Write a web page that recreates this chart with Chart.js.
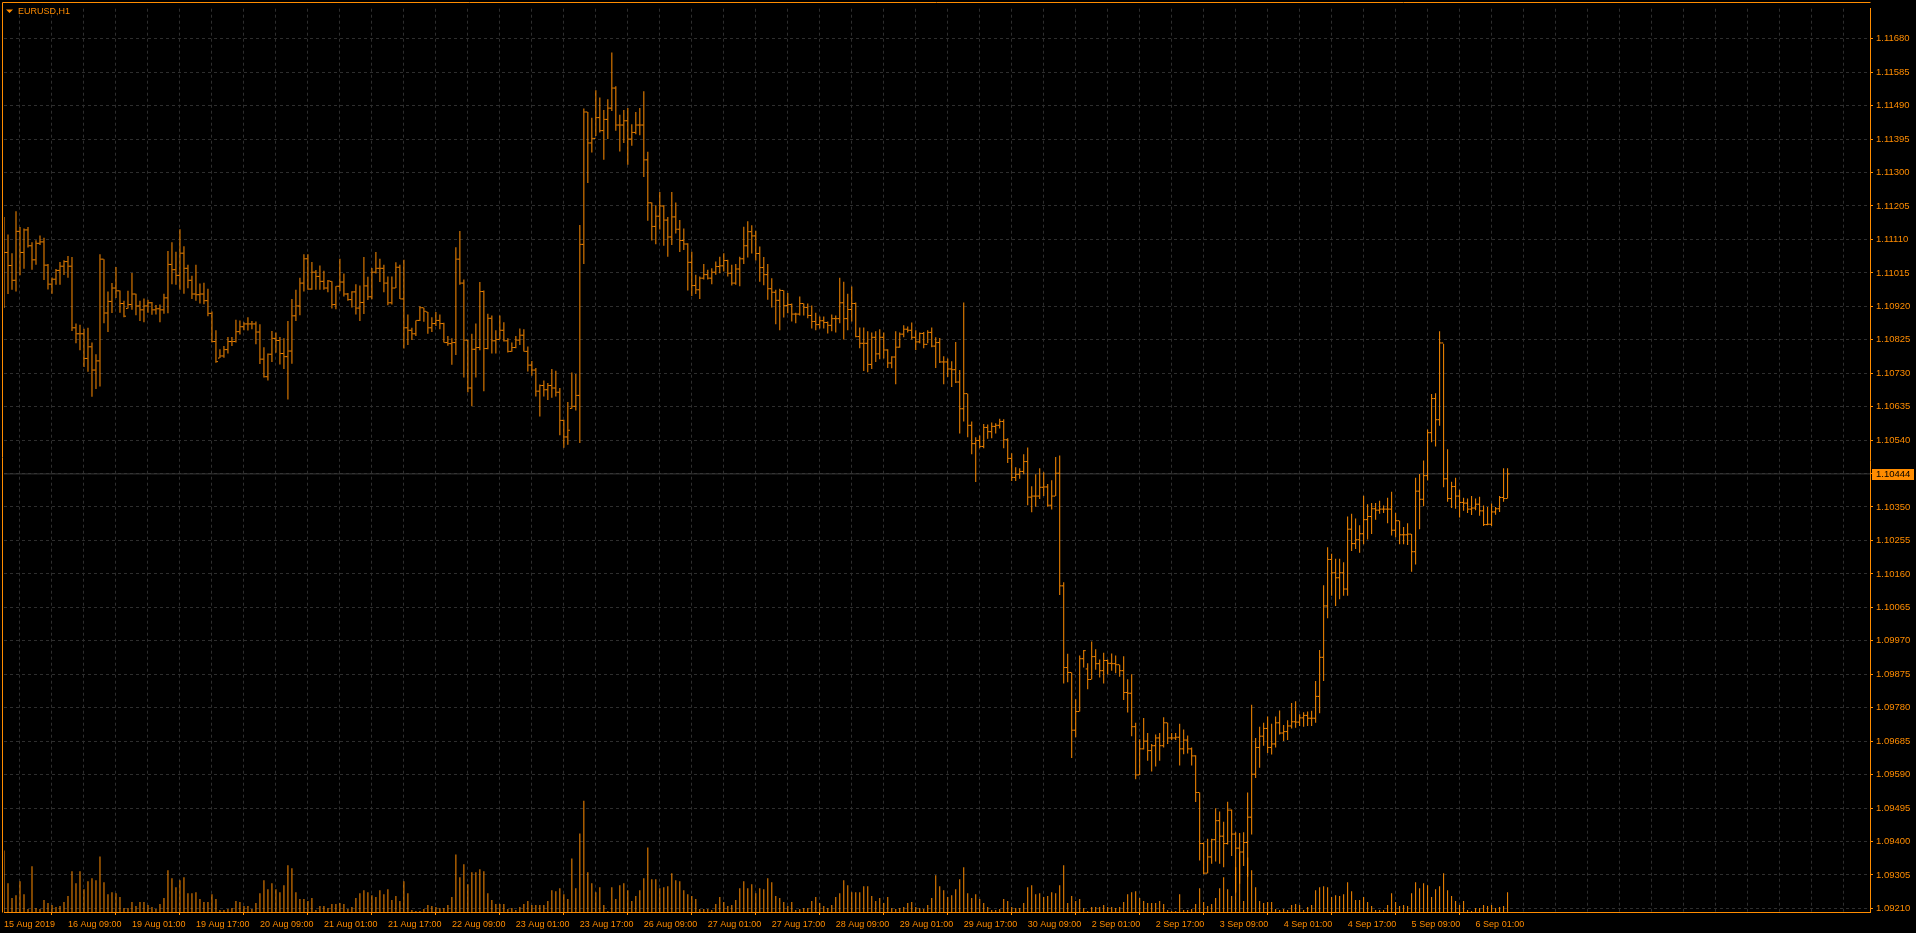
<!DOCTYPE html>
<html lang="en">
<head>
  <meta charset="UTF-8">
  <title>EURUSD,H1</title>
  <script src="https://cdn.jsdelivr.net/npm/chart.js"></script>
  <style>
    html, body {
      margin: 0;
      padding: 0;
      background: #000;
      overflow: hidden;
    }
    #chart {
      display: block;
    }
  </style>
</head>
<body>
  <canvas id="chart" width="1916" height="933"></canvas>
  <script>
    // labels under the time axis, one every 16 hourly bars
    var timeLabels = ['15 Aug 2019', '16 Aug 09:00', '19 Aug 01:00', '19 Aug 17:00', '20 Aug 09:00', '21 Aug 01:00',
      '21 Aug 17:00', '22 Aug 09:00', '23 Aug 01:00', '23 Aug 17:00', '26 Aug 09:00', '27 Aug 01:00',
      '27 Aug 17:00', '28 Aug 09:00', '29 Aug 01:00', '29 Aug 17:00', '30 Aug 09:00', '2 Sep 01:00',
      '2 Sep 17:00', '3 Sep 09:00', '4 Sep 01:00', '4 Sep 17:00', '5 Sep 09:00', '6 Sep 01:00'];

    // price scale labels
    var priceTicks = [1.09210, 1.09305, 1.09400, 1.09495, 1.09590, 1.09685, 1.09780, 1.09875, 1.09970,
      1.10065, 1.10160, 1.10255, 1.10350, 1.10445, 1.10540, 1.10635, 1.10730, 1.10825, 1.10920,
      1.11015, 1.11110, 1.11205, 1.11300, 1.11395, 1.11490, 1.11585, 1.11680];

    // EURUSD H1, 15 Aug 2019 17:00 .. 6 Sep 2019 09:00
    var open = [
      1.11100,1.11073,1.11036,1.10994,1.11133,1.11073,1.11137,1.11092,1.11052,1.11099,1.11103,1.11037,1.10983,1.10997,1.11022,1.11034,
      1.11047,1.11034,1.10859,1.10842,1.10842,1.10772,1.10805,1.10739,1.10765,1.11054,1.10901,1.10934,1.10972,1.10964,1.10928,1.10914,
      1.10925,1.10955,1.10921,1.10910,1.10921,1.10930,1.10910,1.10913,1.10910,1.10944,1.11039,1.11024,1.11008,1.11071,1.11028,1.10994,
      1.10955,1.10953,1.10955,1.10936,1.10900,1.10820,1.10773,1.10779,1.10797,1.10820,1.10820,1.10848,1.10862,1.10870,1.10870,1.10870,
      1.10847,1.10770,1.10720,1.10784,1.10829,1.10823,1.10786,1.10777,1.10793,1.10893,1.10921,1.10986,1.11055,1.10969,1.11017,1.11005,
      1.10991,1.10972,1.10991,1.10925,1.10977,1.10989,1.10955,1.10939,1.10961,1.10915,1.10931,1.10978,1.10947,1.11017,1.11028,1.11028,
      1.10986,1.10930,1.10972,1.11031,1.10941,1.10859,1.10852,1.10842,1.10880,1.10916,1.10904,1.10859,1.10871,1.10880,1.10871,1.10817,
      1.10814,1.10817,1.11054,1.10986,1.10824,1.10688,1.10798,1.10803,1.10962,1.10800,1.10886,1.10822,1.10826,1.10852,1.10822,1.10792,
      1.10803,1.10824,1.10838,1.10792,1.10753,1.10739,1.10679,1.10695,1.10683,1.10695,1.10688,1.10676,1.10596,1.10549,1.10630,1.10636,
      1.10667,1.11096,1.11472,1.11384,1.11397,1.11456,1.11419,1.11451,1.11483,1.11540,1.11435,1.11435,1.11447,1.11395,1.11414,1.11435,
      1.11435,1.11336,1.11214,1.11147,1.11176,1.11205,1.11165,1.11117,1.11174,1.11139,1.11107,1.11097,1.11045,1.10979,1.10967,1.11000,
      1.11010,1.11000,1.11017,1.11033,1.11035,1.11050,1.11014,1.10986,1.11026,1.11055,1.11092,1.11132,1.11120,1.11070,1.11030,1.11010,
      1.10970,1.10960,1.10937,1.10965,1.10922,1.10925,1.10898,1.10898,1.10928,1.10917,1.10894,1.10877,1.10868,1.10879,1.10874,1.10866,
      1.10885,1.10885,1.10930,1.10885,1.10911,1.10928,1.10834,1.10815,1.10815,1.10755,1.10832,1.10785,1.10832,1.10796,1.10759,1.10776,
      1.10804,1.10841,1.10855,1.10852,1.10832,1.10819,1.10843,1.10812,1.10846,1.10807,1.10817,1.10762,1.10762,1.10742,1.10740,1.10705,
      1.10629,1.10672,1.10582,1.10530,1.10539,1.10522,1.10576,1.10564,1.10579,1.10582,1.10593,1.10541,1.10488,1.10434,1.10443,1.10451,
      1.10479,1.10378,1.10381,1.10381,1.10406,1.10407,1.10355,1.10381,1.10446,1.10126,1.09894,1.09880,1.09716,1.09769,1.09919,1.09890,
      1.09860,1.09925,1.09905,1.09885,1.09914,1.09906,1.09905,1.09902,1.09885,1.09823,1.09821,1.09726,1.09589,1.09663,1.09685,1.09658,
      1.09672,1.09694,1.09672,1.09737,1.09694,1.09694,1.09696,1.09663,1.09688,1.09663,1.09643,1.09539,1.09394,1.09310,1.09356,1.09405,
      1.09459,1.09415,1.09394,1.09489,1.09421,1.09381,1.09370,1.09397,1.09469,1.09591,1.09667,1.09699,1.09721,1.09667,1.09677,1.09737,
      1.09708,1.09712,1.09728,1.09740,1.09739,1.09751,1.09758,1.09750,1.09750,1.09812,1.09923,1.10069,1.10201,1.10163,1.10149,1.10163,
      1.10117,1.10287,1.10246,1.10257,1.10274,1.10314,1.10323,1.10345,1.10341,1.10344,1.10344,1.10344,1.10284,1.10311,1.10271,1.10271,
      1.10273,1.10223,1.10395,1.10372,1.10439,1.10561,1.10658,1.10598,1.10816,1.10430,1.10374,1.10408,1.10381,1.10363,1.10361,1.10344,
      1.10347,1.10358,1.10339,1.10300,1.10301,1.10336,1.10345,1.10377,1.10374
    ];
    var high = [
      1.11174,1.11124,1.11071,1.11190,1.11145,1.11141,1.11145,1.11102,1.11108,1.11121,1.11115,1.11040,1.11002,1.11026,1.11046,1.11051,
      1.11063,1.11060,1.10871,1.10868,1.10856,1.10859,1.10817,1.10784,1.11068,1.11054,1.10962,1.10986,1.11032,1.10965,1.10936,1.10964,
      1.11015,1.10956,1.10936,1.10942,1.10939,1.10932,1.10924,1.10925,1.10956,1.11077,1.11102,1.11075,1.11139,1.11091,1.11038,1.11007,
      1.11038,1.10985,1.10987,1.10970,1.10905,1.10852,1.10798,1.10807,1.10833,1.10833,1.10882,1.10880,1.10875,1.10889,1.10878,1.10877,
      1.10869,1.10804,1.10786,1.10850,1.10846,1.10833,1.10829,1.10878,1.10941,1.10967,1.11001,1.11068,1.11068,1.11046,1.11023,1.11036,
      1.11021,1.10995,1.10991,1.10977,1.11055,1.11013,1.10958,1.10963,1.10983,1.10979,1.11060,1.11004,1.11029,1.11074,1.11055,1.11038,
      1.11005,1.11005,1.11045,1.11038,1.11052,1.10897,1.10859,1.10880,1.10920,1.10916,1.10904,1.10889,1.10904,1.10897,1.10873,1.10836,
      1.10829,1.11088,1.11134,1.10996,1.10824,1.10842,1.10871,1.10989,1.10965,1.10899,1.10894,1.10852,1.10894,1.10875,1.10829,1.10817,
      1.10836,1.10857,1.10855,1.10806,1.10765,1.10745,1.10698,1.10709,1.10702,1.10742,1.10737,1.10688,1.10598,1.10648,1.10732,1.10728,
      1.11151,1.11482,1.11472,1.11456,1.11534,1.11513,1.11478,1.11508,1.11641,1.11545,1.11464,1.11478,1.11483,1.11437,1.11472,1.11483,
      1.11531,1.11359,1.11215,1.11207,1.11245,1.11207,1.11174,1.11245,1.11215,1.11165,1.11141,1.11099,1.11075,1.11010,1.11005,1.11040,
      1.11024,1.11028,1.11047,1.11061,1.11071,1.11052,1.11038,1.11040,1.11061,1.11146,1.11162,1.11150,1.11135,1.11090,1.11060,1.11040,
      1.11000,1.10967,1.10970,1.10965,1.10958,1.10928,1.10902,1.10948,1.10928,1.10928,1.10922,1.10902,1.10891,1.10891,1.10877,1.10897,
      1.10894,1.11001,1.10990,1.10956,1.10976,1.10931,1.10860,1.10860,1.10849,1.10846,1.10849,1.10855,1.10846,1.10798,1.10778,1.10849,
      1.10846,1.10866,1.10863,1.10874,1.10852,1.10846,1.10847,1.10852,1.10860,1.10832,1.10830,1.10778,1.10772,1.10764,1.10819,1.10739,
      1.10931,1.10672,1.10593,1.10548,1.10553,1.10586,1.10584,1.10590,1.10588,1.10601,1.10599,1.10545,1.10503,1.10463,1.10460,1.10500,
      1.10519,1.10409,1.10443,1.10460,1.10449,1.10415,1.10426,1.10492,1.10496,1.10136,1.09933,1.09880,1.09804,1.09928,1.09944,1.09906,
      1.09968,1.09946,1.09917,1.09936,1.09917,1.09934,1.09928,1.09902,1.09926,1.09861,1.09875,1.09737,1.09690,1.09751,1.09708,1.09677,
      1.09704,1.09708,1.09753,1.09737,1.09708,1.09708,1.09734,1.09718,1.09701,1.09667,1.09645,1.09539,1.09397,1.09408,1.09408,1.09494,
      1.09485,1.09456,1.09513,1.09491,1.09426,1.09424,1.09426,1.09539,1.09788,1.09694,1.09726,1.09737,1.09755,1.09734,1.09755,1.09772,
      1.09731,1.09744,1.09793,1.09798,1.09761,1.09767,1.09769,1.09771,1.09856,1.09944,1.10128,1.10236,1.10217,1.10203,1.10203,1.10193,
      1.10323,1.10331,1.10317,1.10298,1.10382,1.10358,1.10361,1.10361,1.10368,1.10354,1.10376,1.10393,1.10334,1.10311,1.10293,1.10304,
      1.10273,1.10433,1.10444,1.10482,1.10570,1.10671,1.10673,1.10849,1.10814,1.10514,1.10422,1.10433,1.10399,1.10376,1.10374,1.10381,
      1.10374,1.10379,1.10354,1.10350,1.10360,1.10350,1.10381,1.10460,1.10460
    ];
    var low = [
      1.10915,1.10955,1.10967,1.10962,1.11008,1.11027,1.11087,1.11024,1.11038,1.11094,1.10995,1.10968,1.10956,1.10981,1.10981,1.11009,
      1.11001,1.10850,1.10815,1.10795,1.10748,1.10734,1.10663,1.10685,1.10692,1.10872,1.10847,1.10901,1.10944,1.10902,1.10889,1.10914,
      1.10910,1.10895,1.10878,1.10875,1.10902,1.10896,1.10897,1.10875,1.10899,1.10900,1.10983,1.10981,1.10967,1.10956,1.10971,1.10941,
      1.10936,1.10928,1.10926,1.10892,1.10817,1.10760,1.10773,1.10774,1.10786,1.10807,1.10817,1.10840,1.10852,1.10851,1.10855,1.10812,
      1.10756,1.10718,1.10709,1.10762,1.10788,1.10755,1.10742,1.10655,1.10757,1.10878,1.10895,1.10962,1.10967,1.10967,1.10967,1.10967,
      1.10967,1.10960,1.10914,1.10912,1.10963,1.10948,1.10936,1.10917,1.10897,1.10878,1.10898,1.10938,1.10940,1.11013,1.10989,1.10960,
      1.10923,1.10925,1.10972,1.10941,1.10800,1.10810,1.10824,1.10836,1.10878,1.10876,1.10842,1.10847,1.10864,1.10855,1.10817,1.10808,
      1.10754,1.10782,1.10981,1.10718,1.10676,1.10636,1.10718,1.10795,1.10679,1.10798,1.10786,1.10786,1.10826,1.10820,1.10789,1.10791,
      1.10801,1.10810,1.10792,1.10735,1.10723,1.10664,1.10607,1.10664,1.10654,1.10660,1.10664,1.10554,1.10518,1.10527,1.10629,1.10624,
      1.10532,1.11040,1.11270,1.11357,1.11404,1.11414,1.11336,1.11395,1.11475,1.11419,1.11360,1.11384,1.11322,1.11376,1.11409,1.11406,
      1.11287,1.11163,1.11107,1.11096,1.11138,1.11092,1.11061,1.11094,1.11127,1.11074,1.11080,1.10965,1.10949,1.10955,1.10941,1.10996,
      1.10996,1.10983,1.11010,1.11014,1.11019,1.11005,1.10979,1.10981,1.10977,1.11040,1.11059,1.11070,1.11050,1.10990,1.10980,1.10939,
      1.10917,1.10869,1.10852,1.10888,1.10900,1.10877,1.10872,1.10894,1.10894,1.10886,1.10857,1.10852,1.10857,1.10857,1.10843,1.10849,
      1.10846,1.10872,1.10826,1.10852,1.10877,1.10832,1.10801,1.10736,1.10733,1.10742,1.10762,1.10770,1.10772,1.10745,1.10744,1.10699,
      1.10802,1.10832,1.10846,1.10826,1.10796,1.10815,1.10801,1.10815,1.10804,1.10745,1.10759,1.10699,1.10719,1.10691,1.10702,1.10559,
      1.10593,1.10548,1.10500,1.10421,1.10517,1.10517,1.10544,1.10545,1.10559,1.10573,1.10517,1.10475,1.10424,1.10424,1.10430,1.10443,
      1.10355,1.10335,1.10351,1.10373,1.10381,1.10351,1.10343,1.10381,1.10100,1.09849,1.09852,1.09637,1.09696,1.09769,1.09894,1.09832,
      1.09861,1.09888,1.09866,1.09849,1.09874,1.09885,1.09878,1.09868,1.09802,1.09766,1.09699,1.09577,1.09589,1.09661,1.09629,1.09599,
      1.09613,1.09629,1.09667,1.09677,1.09688,1.09688,1.09616,1.09648,1.09650,1.09616,1.09512,1.09346,1.09307,1.09310,1.09337,1.09343,
      1.09337,1.09327,1.09391,1.09359,1.09255,1.09280,1.09330,1.09300,1.09420,1.09580,1.09609,1.09672,1.09651,1.09647,1.09667,1.09704,
      1.09685,1.09688,1.09721,1.09723,1.09728,1.09726,1.09728,1.09728,1.09737,1.09764,1.09856,1.10034,1.10098,1.10069,1.10088,1.10098,
      1.10098,1.10225,1.10231,1.10220,1.10244,1.10258,1.10273,1.10314,1.10331,1.10333,1.10304,1.10269,1.10264,1.10244,1.10244,1.10242,
      1.10166,1.10187,1.10287,1.10352,1.10425,1.10534,1.10522,1.10581,1.10406,1.10365,1.10347,1.10345,1.10320,1.10339,1.10333,1.10327,
      1.10341,1.10325,1.10296,1.10298,1.10296,1.10328,1.10336,1.10365,1.10374
    ];
    var close = [
      1.11073,1.11036,1.10994,1.11133,1.11073,1.11137,1.11092,1.11052,1.11099,1.11103,1.11037,1.10983,1.10997,1.11022,1.11034,1.11047,
      1.11034,1.10859,1.10842,1.10842,1.10772,1.10805,1.10739,1.10765,1.11054,1.10901,1.10934,1.10972,1.10964,1.10928,1.10892,1.10925,
      1.10955,1.10921,1.10910,1.10921,1.10930,1.10910,1.10913,1.10910,1.10944,1.11039,1.11024,1.11008,1.11071,1.11028,1.10994,1.10955,
      1.10953,1.10955,1.10936,1.10900,1.10820,1.10763,1.10779,1.10797,1.10820,1.10820,1.10848,1.10862,1.10870,1.10870,1.10870,1.10847,
      1.10770,1.10720,1.10784,1.10829,1.10823,1.10786,1.10777,1.10793,1.10893,1.10921,1.10986,1.11055,1.10969,1.11017,1.11005,1.10991,
      1.10972,1.10992,1.10925,1.10977,1.10989,1.10955,1.10939,1.10961,1.10915,1.10931,1.10978,1.10947,1.11017,1.11028,1.11028,1.10986,
      1.10930,1.10972,1.11031,1.10941,1.10859,1.10852,1.10842,1.10880,1.10916,1.10906,1.10859,1.10871,1.10880,1.10871,1.10817,1.10814,
      1.10817,1.11054,1.10986,1.10824,1.10688,1.10798,1.10803,1.10962,1.10800,1.10886,1.10822,1.10826,1.10852,1.10822,1.10792,1.10803,
      1.10824,1.10838,1.10792,1.10753,1.10739,1.10679,1.10695,1.10683,1.10695,1.10688,1.10676,1.10596,1.10549,1.10568,1.10636,1.10667,
      1.11096,1.11472,1.11384,1.11397,1.11456,1.11419,1.11451,1.11483,1.11540,1.11435,1.11435,1.11447,1.11395,1.11414,1.11435,1.11435,
      1.11336,1.11214,1.11147,1.11176,1.11205,1.11165,1.11117,1.11174,1.11139,1.11107,1.11097,1.11045,1.10979,1.10967,1.11000,1.11010,
      1.11000,1.11017,1.11033,1.11035,1.11050,1.11014,1.10986,1.11026,1.11055,1.11092,1.11132,1.11120,1.11070,1.11030,1.11010,1.10970,
      1.10960,1.10937,1.10965,1.10922,1.10925,1.10898,1.10898,1.10928,1.10917,1.10894,1.10877,1.10868,1.10879,1.10874,1.10866,1.10885,
      1.10885,1.10930,1.10885,1.10911,1.10928,1.10834,1.10815,1.10815,1.10755,1.10832,1.10785,1.10832,1.10796,1.10759,1.10776,1.10804,
      1.10841,1.10855,1.10852,1.10832,1.10819,1.10843,1.10812,1.10846,1.10807,1.10817,1.10762,1.10762,1.10742,1.10740,1.10705,1.10629,
      1.10672,1.10582,1.10530,1.10539,1.10522,1.10576,1.10564,1.10579,1.10582,1.10593,1.10541,1.10488,1.10434,1.10443,1.10451,1.10479,
      1.10378,1.10381,1.10381,1.10406,1.10407,1.10355,1.10381,1.10446,1.10126,1.09894,1.09880,1.09716,1.09769,1.09919,1.09942,1.09860,
      1.09925,1.09905,1.09885,1.09914,1.09906,1.09905,1.09902,1.09885,1.09823,1.09821,1.09726,1.09589,1.09663,1.09685,1.09658,1.09672,
      1.09694,1.09672,1.09737,1.09694,1.09694,1.09696,1.09663,1.09688,1.09663,1.09643,1.09539,1.09394,1.09310,1.09356,1.09405,1.09459,
      1.09415,1.09394,1.09489,1.09421,1.09381,1.09370,1.09397,1.09469,1.09591,1.09667,1.09699,1.09721,1.09667,1.09677,1.09737,1.09708,
      1.09712,1.09728,1.09740,1.09739,1.09751,1.09758,1.09750,1.09750,1.09812,1.09923,1.10069,1.10201,1.10163,1.10149,1.10163,1.10117,
      1.10287,1.10246,1.10257,1.10274,1.10314,1.10323,1.10345,1.10341,1.10344,1.10344,1.10344,1.10284,1.10311,1.10271,1.10271,1.10273,
      1.10223,1.10395,1.10372,1.10439,1.10561,1.10658,1.10598,1.10816,1.10430,1.10374,1.10408,1.10381,1.10363,1.10361,1.10344,1.10347,
      1.10358,1.10339,1.10300,1.10301,1.10336,1.10345,1.10377,1.10374,1.10444
    ];
    // tick volume
    var volume = [
      6200,2900,1400,1700,3100,1800,300,4600,400,300,1200,900,700,500,600,1000,
      1600,4100,2900,4100,2300,3100,3400,3200,5600,3000,1800,2000,1900,1500,400,400,
      1000,600,1000,1000,700,500,300,800,1400,4200,3400,2500,3200,3500,1900,1900,
      2000,1300,1000,1000,1800,1300,200,200,300,400,1100,1000,600,600,300,900,
      1900,3200,2300,2900,2300,2000,2700,4700,4400,2000,1300,1300,1100,1400,200,600,
      600,400,800,800,900,800,300,500,1400,1900,2200,2000,1700,1500,2200,1800,
      2300,1200,1600,1100,3100,1900,200,100,100,300,700,600,500,400,400,700,
      1500,5800,3500,4800,2800,4000,4000,4300,4100,1900,1200,800,800,800,300,400,
      200,500,800,1100,700,700,700,700,1100,2200,2100,2400,1800,1300,5400,2400,
      7900,11200,4000,2900,2000,2500,700,100,2500,1300,2700,2900,2200,1100,1600,2200,
      3400,6500,3300,3300,2400,2500,2600,3900,3200,3100,2200,1800,1600,1300,300,300,
      300,200,800,1500,1000,600,700,1200,2400,3100,2400,2800,1900,2400,2300,3400,
      3000,1600,1400,1000,600,1000,200,300,400,400,1100,1500,900,600,400,700,
      1500,1900,3200,2700,2000,2000,2000,2600,2600,1600,1100,1400,900,1500,400,300,
      400,500,900,1000,500,400,300,700,1400,3700,2600,2200,1500,1700,2300,3300,
      4500,1900,1400,1800,1300,900,500,200,200,300,1300,1100,500,400,400,900,
      2500,2700,1800,1900,1500,1600,2000,1900,2700,4700,900,1600,1100,1300,400,100,
      500,500,500,700,500,500,400,500,1000,1800,2000,2100,1400,1100,900,900,
      900,1100,800,200,100,100,1800,200,200,300,800,2400,1000,600,800,1400,
      2400,3500,2300,1600,4500,6000,1100,5500,4200,2500,1100,900,1000,1000,300,200,
      300,200,700,800,700,200,500,700,2200,2500,2600,2500,1500,1700,1600,1800,
      3000,2100,1200,1200,1500,1000,600,200,200,200,700,1900,1000,600,700,600,
      1900,3000,2400,2900,2700,1500,2300,2600,3900,2200,1600,1100,700,1100,200,100,
      400,400,700,600,700,400,500,600,2000
    ];

    var ORANGE = '#ff8c00';
    var GRID = '#2e2e2e';
    var FONT = '"Liberation Sans", Arial, sans-serif';
    var lastPrice = close[close.length - 1];
    var xMax = 466.625; // empty space right of the last bar, as in the terminal

    var hlData = [], openData = [], closeData = [], volData = [];
    for (var i = 0; i < close.length; i++) {
      hlData.push({ x: i, y: [low[i], high[i]] });
      openData.push({ x: i - 0.3, y: open[i] });
      closeData.push({ x: i + 0.3, y: close[i] });
      volData.push({ x: i, y: volume[i] });
    }

    // grid every 8 bars, labels every 16
    var xGrid = [];
    for (var g = 0; g <= xMax; g += 8) xGrid.push({ value: g });

    function xLabel(v) {
      if (v % 16 !== 0) return '';
      var k = v / 16;
      return k < timeLabels.length ? timeLabels[k] : '';
    }

    var terminalPlugin = {
      id: 'terminal',
      beforeDraw: function(chart) {
        var ctx = chart.ctx;
        ctx.save();
        ctx.fillStyle = '#000';
        ctx.fillRect(0, 0, chart.width, chart.height);
        ctx.restore();
      },
      afterDraw: function(chart) {
        var ctx = chart.ctx;
        var a = chart.chartArea;
        ctx.save();
        // left and top edges of the frame
        ctx.strokeStyle = ORANGE;
        ctx.lineWidth = 1;
        ctx.beginPath();
        ctx.moveTo(2.5, a.bottom + 0.5);
        ctx.lineTo(2.5, 2.5);
        ctx.lineTo(a.right + 0.5, 2.5);
        ctx.stroke();

        // symbol caption
        ctx.fillStyle = ORANGE;
        ctx.beginPath();
        ctx.moveTo(6, 9.5);
        ctx.lineTo(13, 9.5);
        ctx.lineTo(9.5, 13);
        ctx.closePath();
        ctx.fill();
        ctx.font = '9px ' + FONT;
        ctx.textAlign = 'left';
        ctx.textBaseline = 'alphabetic';
        ctx.fillText('EURUSD,H1', 18, 14);

        // last price tag on the price scale
        var y = Math.round(chart.scales.y.getPixelForValue(lastPrice));
        ctx.fillRect(a.right + 2, y - 5, 42, 11);
        ctx.fillStyle = '#000';
        ctx.font = '9.5px ' + FONT;
        ctx.textBaseline = 'middle';
        ctx.fillText(lastPrice.toFixed(5), a.right + 6, y + 0.5);
        ctx.restore();
      }
    };

    var ctx = document.getElementById('chart').getContext('2d');
    var chart = new Chart(ctx, {
      type: 'bar',
      data: {
        datasets: [
          {
            type: 'line',
            label: 'open tick',
            data: openData,
            showLine: false,
            pointStyle: 'line',
            pointRadius: 0.75,
            pointHoverRadius: 0,
            pointBorderWidth: 1,
            pointBorderColor: ORANGE,
            order: 2
          },
          {
            type: 'line',
            label: 'close tick',
            data: closeData,
            showLine: false,
            pointStyle: 'line',
            pointRadius: 0.75,
            pointHoverRadius: 0,
            pointBorderWidth: 1,
            pointBorderColor: ORANGE,
            order: 1
          },
          {
            type: 'bar',
            label: 'high-low',
            data: hlData,
            backgroundColor: ORANGE,
            borderWidth: 0,
            inflateAmount: 0,
            barThickness: 1,
            grouped: false,
            order: 3
          },
          {
            type: 'bar',
            label: 'volume',
            data: volData,
            yAxisID: 'y2',
            backgroundColor: ORANGE,
            borderWidth: 0,
            inflateAmount: 0,
            barThickness: 1,
            grouped: false,
            order: 4
          },
          {
            type: 'line',
            label: 'last price',
            data: [{ x: 0, y: lastPrice }, { x: xMax, y: lastPrice }],
            borderColor: '#383838',
            borderWidth: 1,
            pointRadius: 0,
            order: 5
          }
        ]
      },
      options: {
        responsive: false,
        devicePixelRatio: 1,
        animation: false,
        events: [],
        layout: {
          padding: { left: 3.5, top: 2, right: 0, bottom: 0 }
        },
        plugins: {
          legend: { display: false },
          tooltip: { enabled: false }
        },
        scales: {
          x: {
            type: 'linear',
            min: 0,
            max: xMax,
            bounds: 'data',
            offset: false,
            afterBuildTicks: function(s) { s.ticks = xGrid.slice(); },
            afterFit: function(s) { s.height = 21; },
            grid: {
              color: GRID,
              lineWidth: 1,
              drawTicks: true,
              tickLength: 3,
              tickWidth: 1,
              tickBorderDash: [],
              tickColor: function(c) {
                return c.tick && xLabel(c.tick.value) ? ORANGE : 'rgba(0,0,0,0)';
              }
            },
            border: { display: true, color: ORANGE, width: 1, dash: [3, 3] },
            ticks: {
              autoSkip: false,
              maxRotation: 0,
              minRotation: 0,
              align: 'start',
              padding: 4,
              color: ORANGE,
              font: { family: FONT, size: 9 },
              callback: function(v) { return xLabel(v); }
            }
          },
          y: {
            position: 'right',
            min: 1.091996,
            max: 1.117654,
            bounds: 'data',
            afterBuildTicks: function(s) {
              s.ticks = priceTicks.map(function(v) { return { value: v }; });
            },
            afterFit: function(s) { s.width = 46; },
            grid: {
              color: GRID,
              lineWidth: 1,
              drawTicks: true,
              tickLength: 3,
              tickWidth: 1,
              tickBorderDash: [],
              tickColor: ORANGE
            },
            border: { display: true, color: ORANGE, width: 1, dash: [3, 3] },
            ticks: {
              padding: 3,
              color: ORANGE,
              font: { family: FONT, size: 9.5 },
              callback: function(v) { return v.toFixed(5); }
            }
          },
          y2: {
            display: false,
            min: 0,
            max: 91000
          }
        }
      },
      plugins: [terminalPlugin]
    });
  </script>
</body>
</html>
